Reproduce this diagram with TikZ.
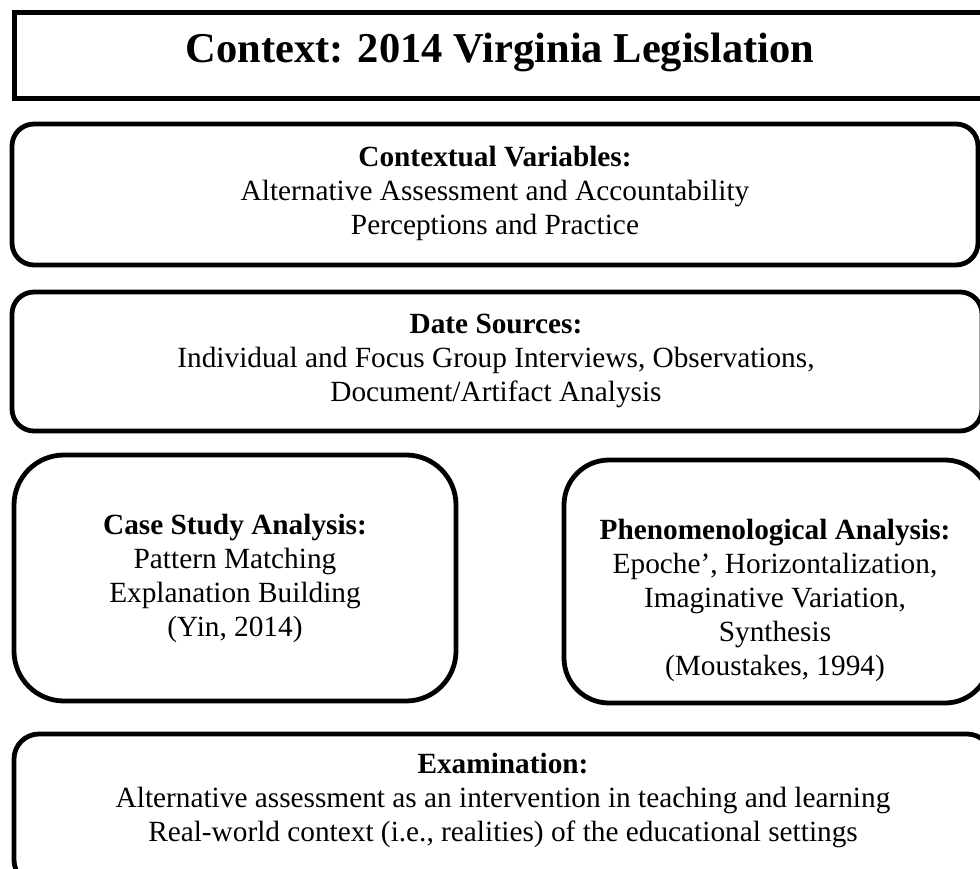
\documentclass[tikz,border=0pt]{standalone}
\usepackage{fontspec}
\setmainfont{Liberation Serif}
\begin{document}
\begin{tikzpicture}[x=1pt,y=-1pt,
  box/.style={draw=black,line width=4.8pt,rounded corners=22pt,inner sep=0pt},
  txt/.style={align=center,inner sep=0pt,font=\fontsize{29.3}{34}\selectfont}]
\useasboundingbox (0,0) rectangle (980,869);
\node[box,sharp corners,line width=5.5pt,minimum width=975.5pt,minimum height=86pt] (ctx) at (502.25,55.5) {};
\node[box,minimum width=966pt,minimum height=141pt] (vars) at (495,194.5) {};
\node[box,minimum width=970pt,minimum height=139pt] (src) at (497,361.5) {};
\node[box,rounded corners=50pt,minimum width=442pt,minimum height=246pt] (case) at (235,578) {};
\node[box,rounded corners=45pt,minimum width=426pt,minimum height=243pt] (phen) at (777,581.5) {};
\node[box,rounded corners=25pt,minimum width=978pt,minimum height=151pt] (exam) at (503,809.5) {};
\node[txt,font=\fontsize{42.5}{50}\selectfont\bfseries] (ctxT) at (500,52) {Context: 2014 Virginia Legislation};
\node[txt] (varsT) at (495,193) {\textbf{Contextual Variables:}\\Alternative Assessment and Accountability\\Perceptions and Practice};
\node[txt] (srcT) at (496,361) {\textbf{Date Sources:}\\Individual and Focus Group Interviews, Observations,\\Document/Artifact Analysis};
\node[txt] (caseT) at (235,578) {\textbf{Case Study Analysis:}\\Pattern Matching\\Explanation Building\\(Yin, 2014)};
\node[txt] (phenT) at (775,600) {\textbf{Phenomenological Analysis:}\\Epoche', Horizontalization,\\Imaginative Variation,\\Synthesis\\(Moustakes, 1994)};
\node[txt] (examT) at (503,800) {\textbf{Examination:}\\Alternative assessment as an intervention in teaching and learning\\Real-world context (i.e., realities) of the educational settings};
\end{tikzpicture}
\end{document}
